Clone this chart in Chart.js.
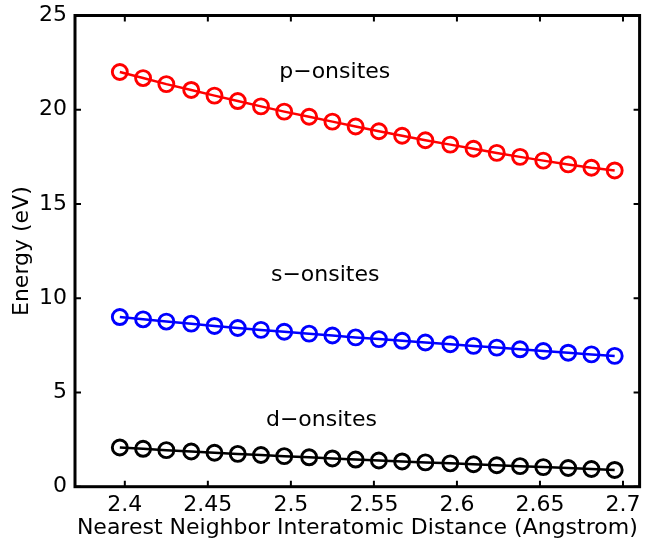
<!DOCTYPE html>
<html><head><meta charset="utf-8">
<script src="https://cdn.jsdelivr.net/npm/chart.js@4/dist/chart.umd.min.js"></script>
<style>html,body{margin:0;padding:0;background:#fff}#wrap{width:650px;height:546px}</style>
</head><body><div id="wrap"><canvas id="c" width="650" height="546"></canvas></div>
<script>
const distance = [2.397, 2.411, 2.425, 2.440, 2.454, 2.468, 2.482, 2.496, 2.511, 2.525, 2.539, 2.553, 2.567, 2.581, 2.596, 2.610, 2.624, 2.638, 2.652, 2.667, 2.681, 2.695];
const pOnsite = [22.00, 21.68, 21.36, 21.05, 20.75, 20.46, 20.18, 19.90, 19.63, 19.37, 19.11, 18.86, 18.62, 18.38, 18.15, 17.93, 17.71, 17.50, 17.30, 17.10, 16.92, 16.78];
const sOnsite = [9.00, 8.88, 8.76, 8.65, 8.53, 8.42, 8.32, 8.22, 8.12, 8.02, 7.92, 7.83, 7.74, 7.65, 7.56, 7.47, 7.38, 7.29, 7.20, 7.11, 7.02, 6.94];
const dOnsite = [2.08, 2.01, 1.94, 1.87, 1.80, 1.74, 1.68, 1.62, 1.56, 1.50, 1.44, 1.39, 1.34, 1.29, 1.24, 1.19, 1.14, 1.09, 1.04, 0.99, 0.94, 0.89];
const xTicks = [2.4, 2.45, 2.5, 2.55, 2.6, 2.65, 2.7];
const yTicks = [0, 5, 10, 15, 20, 25];
const seriesNames = ['p\u2212onsites', 's\u2212onsites', 'd\u2212onsites'];
const seriesColors = ['#ff0000', '#0000ff', '#000000'];
const labelX = [2.493, 2.488, 2.485];
const labelY = [22.0, 11.2, 3.5];

const FONT = '"DejaVu Sans", sans-serif';
const FS = 22;

function makeSet(vals, color, name) {
  return {
    label: name,
    data: distance.map((x, i) => ({x: x, y: vals[i]})),
    borderColor: color,
    backgroundColor: 'rgba(0,0,0,0)',
    borderWidth: 2.5,
    pointRadius: 7.5,
    pointHoverRadius: 7.5,
    pointBorderWidth: 2.9,
    pointBorderColor: color,
    pointBackgroundColor: 'rgba(0,0,0,0)',
    tension: 0,
    fill: false
  };
}

const framePlugin = {
  id: 'frame',
  afterDatasetsDraw(chart) {
    const ctx = chart.ctx, a = chart.chartArea;
    const xs = chart.scales.x, ys = chart.scales.y;
    ctx.save();
    ctx.strokeStyle = '#000';
    ctx.lineWidth = 2;
    const TL = 6;
    ctx.beginPath();
    xTicks.forEach(v => {
      const px = xs.getPixelForValue(v);
      ctx.moveTo(px, a.bottom); ctx.lineTo(px, a.bottom - TL);
      ctx.moveTo(px, a.top); ctx.lineTo(px, a.top + TL);
    });
    yTicks.forEach(v => {
      const py = ys.getPixelForValue(v);
      ctx.moveTo(a.left, py); ctx.lineTo(a.left + TL, py);
      ctx.moveTo(a.right, py); ctx.lineTo(a.right - TL, py);
    });
    ctx.stroke();
    ctx.lineWidth = 3;
    ctx.strokeRect(a.left, a.top, a.right - a.left, a.bottom - a.top);
    ctx.fillStyle = '#000';
    ctx.font = FS + 'px ' + FONT;
    ctx.textAlign = 'left';
    ctx.textBaseline = 'middle';
    seriesNames.forEach((n, i) => {
      ctx.fillText(n, xs.getPixelForValue(labelX[i]), ys.getPixelForValue(labelY[i]));
    });
    ctx.restore();
  }
};

new Chart(document.getElementById('c'), {
  type: 'line',
  data: { datasets: [makeSet(pOnsite, seriesColors[0], seriesNames[0]), makeSet(sOnsite, seriesColors[1], seriesNames[1]), makeSet(dOnsite, seriesColors[2], seriesNames[2])] },
  options: {
    responsive: false,
    animation: false,
    devicePixelRatio: 1,
    layout: { padding: { top: 15.5, right: 3, left: 0, bottom: 0 } },
    plugins: { legend: { display: false }, tooltip: { enabled: false }, title: { display: false } },
    scales: {
      x: {
        type: 'linear', min: 2.37, max: 2.71,
        grid: { display: false, drawTicks: false },
        border: { display: false },
        afterBuildTicks: s => { s.ticks = xTicks.map(v => ({value: v})); },
        afterFit: s => { s.height = 59.3; s.paddingLeft = 0; s.paddingRight = 0; },
        ticks: { color: '#000', font: { family: FONT, size: FS, lineHeight: 1 }, padding: 8, maxRotation: 0, autoSkip: false, callback: v => String(v) },
        title: { display: true, text: 'Nearest Neighbor Interatomic Distance (Angstrom)', color: '#000', font: { family: FONT, size: FS, lineHeight: 1 }, padding: { top: 0, bottom: 7 } }
      },
      y: {
        type: 'linear', min: 0, max: 25,
        grid: { display: false, drawTicks: false },
        border: { display: false },
        afterBuildTicks: s => { s.ticks = yTicks.map(v => ({value: v})); },
        afterFit: s => { s.width = 75; s.paddingTop = 0; s.paddingBottom = 0; },
        ticks: { color: '#000', font: { family: FONT, size: FS, lineHeight: 1 }, padding: 8, autoSkip: false, callback: v => String(v) },
        title: { display: true, text: 'Energy (eV)', color: '#000', font: { family: FONT, size: FS, lineHeight: 1 }, padding: { top: 11, bottom: 0 } }
      }
    }
  },
  plugins: [framePlugin]
});
</script>
</body></html>
